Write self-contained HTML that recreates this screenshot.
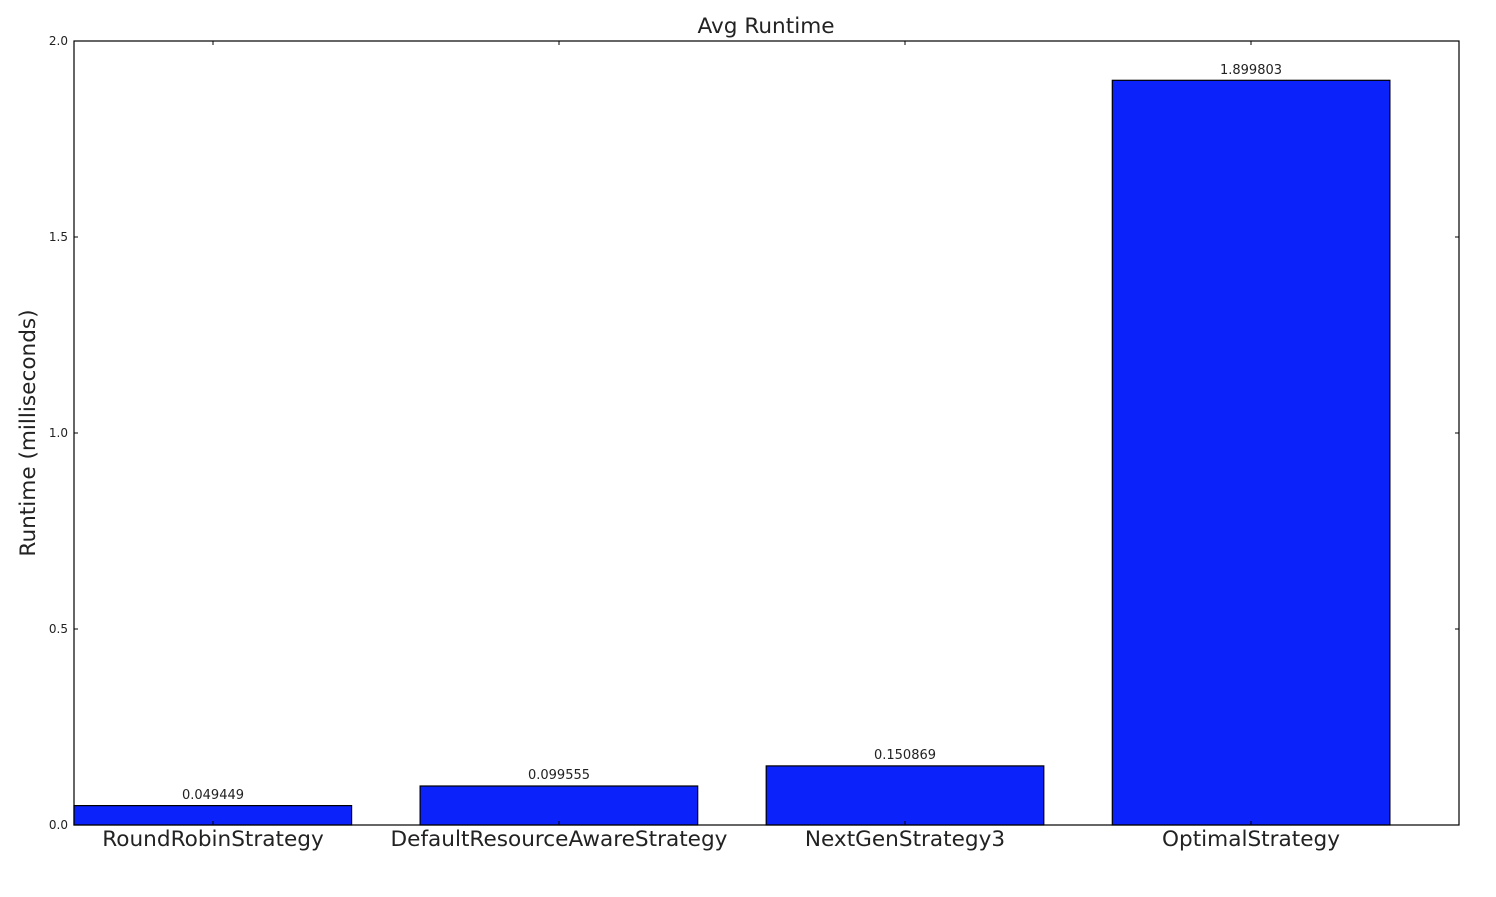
<!DOCTYPE html>
<html><head><style>body{margin:0;background:#fff}</style></head><body>
<svg width="1496" height="892" xmlns="http://www.w3.org/2000/svg" font-family="DejaVu Sans, sans-serif">
<rect width="1496" height="892" fill="#fff"/>
<g fill="#0b22fb" stroke="#000" stroke-width="1.2">
<rect x="74" y="805.6" width="277.6" height="19.4"/>
<rect x="420.1" y="786" width="277.6" height="39"/>
<rect x="766.2" y="765.9" width="277.6" height="59.1"/>
<rect x="1112.3" y="80.3" width="277.6" height="744.7"/>
</g>
<rect x="74" y="41" width="1385" height="784" fill="none" stroke="#000" stroke-width="1.2"/>
<g stroke="#000" stroke-width="1">
<path d="M74 237h4M74 433h4M74 629h4M1459 237h-4M1459 433h-4M1459 629h-4"/>
<path d="M213 825v-4M559 825v-4M905 825v-4M1251 825v-4M213 41v4M559 41v4M905 41v4M1251 41v4"/>
</g>
<g font-size="12" fill="#222" text-anchor="end">
<text x="68" y="45">2.0</text><text x="68" y="241">1.5</text><text x="68" y="437">1.0</text><text x="68" y="633">0.5</text><text x="68" y="829">0.0</text>
</g>
<g font-size="13" fill="#222" text-anchor="middle">
<text x="213" y="799">0.049449</text><text x="559" y="779">0.099555</text><text x="905" y="759">0.150869</text><text x="1251" y="74">1.899803</text>
</g>
<g font-size="21.6" fill="#222" text-anchor="middle">
<text x="213" y="846">RoundRobinStrategy</text><text x="559" y="846">DefaultResourceAwareStrategy</text><text x="905" y="846">NextGenStrategy3</text><text x="1251" y="846">OptimalStrategy</text>
<text x="766" y="33">Avg Runtime</text>
<text transform="translate(35,433) rotate(-90)">Runtime (milliseconds)</text>
</g>
</svg>
</body></html>
